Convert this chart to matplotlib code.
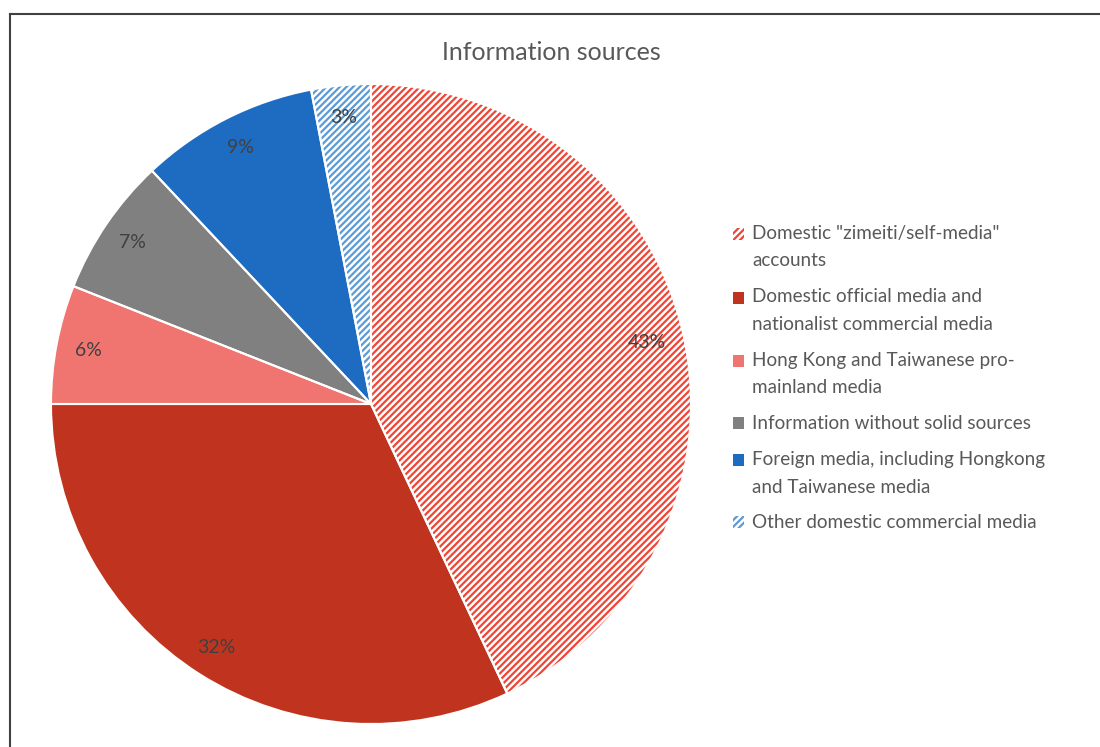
import matplotlib
matplotlib.use("Agg")
import matplotlib.pyplot as plt
from matplotlib.patches import Rectangle
from matplotlib.legend_handler import HandlerPatch

title = "Information sources"
categories = [
    'Domestic "zimeiti/self-media"\naccounts',
    'Domestic official media and\nnationalist commercial media',
    'Hong Kong and Taiwanese pro-\nmainland media',
    'Information without solid sources',
    'Foreign media, including Hongkong\nand Taiwanese media',
    'Other domestic commercial media',
]
values = [43, 32, 6, 7, 9, 3]
colors = ['#F04535', '#C0341F', '#F07571', '#808080', '#1E6CC2', '#5B9BD5']
hatched = [True, False, False, False, False, True]

plt.rcParams['font.family'] = ['Lato', 'DejaVu Sans']
plt.rcParams['hatch.linewidth'] = 1.6

fig = plt.figure(figsize=(11, 7.47), dpi=100)
W, H = 1100, 747
cx, cy, R = 371, 404, 320
ax = fig.add_axes([(cx - R) / W, (H - cy - R) / H, 2 * R / W, 2 * R / H])

wedges, texts, autotexts = ax.pie(
    values, startangle=90, counterclock=False, radius=1,
    autopct='%d%%', pctdistance=0.9,
    textprops=dict(color='#404040', fontsize=14),
    wedgeprops=dict(linewidth=0),
)
for w, c, h in zip(wedges, colors, hatched):
    if h:
        w.set_facecolor('white')
        w.set_edgecolor(c)
        w.set_hatch('/////')
        w.set_linewidth(0)
    else:
        w.set_facecolor(c)
        w.set_edgecolor(c)
autotexts[0].set_position((autotexts[0].get_position()[0] * 0.98,
                           autotexts[0].get_position()[1] * 0.98))
# white separators
ax.pie(values, startangle=90, counterclock=False, radius=1,
       colors=['none'] * len(values),
       wedgeprops=dict(linewidth=1.5, edgecolor='white', fill=False))
ax.set_xlim(-1, 1)
ax.set_ylim(-1, 1)
ax.set_aspect('equal')
ax.axis('off')

fig.text(551 / W, 1 - 52 / H, title, ha='center', va='center',
         fontsize=18, color='#595959')


def make_handler(shift):
    def patch_func(legend, orig_handle, xdescent, ydescent, width, height, fontsize):
        return Rectangle((-xdescent, -ydescent + shift), width, height)
    return HandlerPatch(patch_func=patch_func)


handler_map = {}
for w, lab in zip(wedges, categories):
    shift = 9.7 if '\n' in lab else 0.0
    handler_map[w] = make_handler(shift)

leg = fig.legend(wedges, categories, loc='upper left',
                 bbox_to_anchor=(733 / W, 1 - 225 / H),
                 frameon=False, fontsize=13.6, labelcolor='#595959',
                 handlelength=0.6, handleheight=0.6, handletextpad=0.4,
                 labelspacing=1.0, borderpad=0, borderaxespad=0,
                 handler_map=handler_map)
for t in leg.get_texts():
    t.set_linespacing(1.75)

# frame lines (top and left)
fig.add_artist(plt.Line2D([9.5 / W, 1], [1 - 13.5 / H] * 2, color='#404040',
                          linewidth=1.5, transform=fig.transFigure))
fig.add_artist(plt.Line2D([9.5 / W] * 2, [0, 1 - 13.5 / H], color='#404040',
                          linewidth=1.5, transform=fig.transFigure))

fig.savefig('out.png', dpi=100)
